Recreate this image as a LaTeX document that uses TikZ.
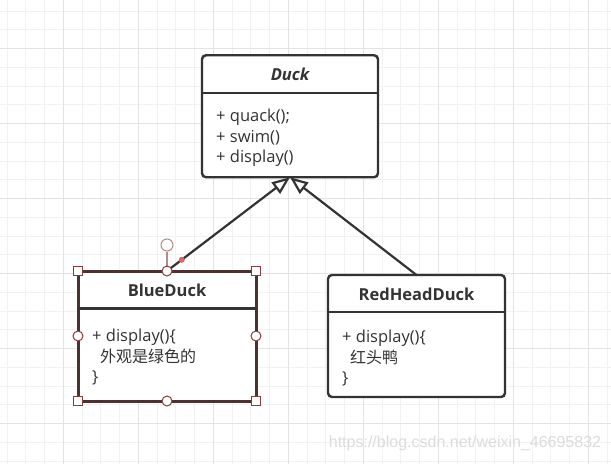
\documentclass[tikz,border=0pt]{standalone}
\usepackage{fontspec}
\setmainfont{Open Sans}
\newfontfamily\cjk{Noto Sans CJK SC}
\newfontfamily\wmfont{Liberation Sans}
\usetikzlibrary{positioning,arrows.meta}
\definecolor{ink}{HTML}{333333}
\definecolor{selbrown}{HTML}{4A3232}
\definecolor{handle}{HTML}{8B3A3A}
\definecolor{rothandle}{HTML}{B58A8A}
\definecolor{reddot}{HTML}{E06262}
\definecolor{gridminor}{HTML}{F2F2F2}
\definecolor{gridmajor}{HTML}{E3E3E3}
\definecolor{wmgray}{HTML}{DCDCDC}

\begin{document}
\begin{tikzpicture}[x=1pt, y=-1pt, font=\fontsize{16.5}{20.5}\selectfont,
    cls/.style={draw=ink, line width=2.4pt, rounded corners=4pt, fill=white, outer sep=0pt, minimum width=176pt, minimum height=122pt},
    title/.style={font=\fontsize{16.5}{18}\selectfont\bfseries, text=ink},
    body/.style={align=left, text=ink, anchor=north west, inner sep=0pt},
    sq/.style={draw=handle, fill=white, line width=1pt, minimum size=9pt, inner sep=0pt},
    dot/.style={circle, draw=handle, fill=white, line width=1pt, minimum size=10pt, inner sep=0pt},
    inherit/.style={draw=ink, line width=2.2pt, -{Triangle[open, length=18pt, width=14pt, fill=white]}}]

	% grid paper
	\useasboundingbox (0,0) rectangle (611,464);
	\fill[white] (0,0) rectangle (611,464);
	\foreach \i in {0,...,32} \draw[gridminor, line width=1pt] ({7.05+18.75*\i},0) -- ++(0,464);
	\foreach \j in {0,...,25} \draw[gridminor, line width=1pt] (0,{-7.55+18.75*\j}) -- ++(611,0);
	\foreach \i in {0,...,7} \draw[gridmajor, line width=1pt] ({63.3+75*\i},0) -- ++(0,464);
	\foreach \j in {0,...,5} \draw[gridmajor, line width=1pt] (0,{48.7+75*\j}) -- ++(611,0);

	% classes
	\node[cls] (duck) at (290,116.25) {};
	\node[title, font=\fontsize{16.5}{18}\selectfont\bfseries\itshape] (duck_title) at ([yshift=-19pt]duck.north) {Duck};
	\draw[ink, line width=2.4pt] ([yshift=-37.5pt]duck.north west) -- ([yshift=-37.5pt]duck.north east);
	\node[body] (duck_ops) at ([xshift=14pt, yshift=-54pt]duck.north west) {+ quack();\\+ swim()\\+ display()};

	\node[cls, draw=selbrown, line width=3pt, rounded corners=0pt, minimum width=178pt, minimum height=130pt] (blue) at (167,336) {};
	\node[title] (blue_title) at ([yshift=-19pt]blue.north) {BlueDuck};
	\draw[ink, line width=2.6pt] ([yshift=-37.5pt]blue.north west) -- ([yshift=-37.5pt]blue.north east);
	\node[body] (blue_ops) at ([xshift=14pt, yshift=-58pt]blue.north west) {+ display()\{\\\hspace{8pt}{\cjk\fontsize{16}{20.5}\selectfont 外观是绿色的}\\\}};

	\node[cls, minimum width=177pt] (red) at (416.5,336) {};
	\node[title] (red_title) at ([yshift=-19pt]red.north) {RedHeadDuck};
	\draw[ink, line width=2.4pt] ([yshift=-37pt]red.north west) -- ([yshift=-37pt]red.north east);
	\node[body] (red_ops) at ([xshift=14pt, yshift=-55pt]red.north west) {+ display()\{\\\hspace{8pt}{\cjk\fontsize{16}{20.5}\selectfont 红头鸭}\\\}};

	% inheritance
	\draw[inherit] (blue.north) -- node[pos=0.12, circle, fill=reddot, minimum size=6pt, inner sep=0pt] (bend) {} (duck.south);
	\draw[inherit] (red.north) -- (duck.south);

	% selection handles
	\node[dot, draw=rothandle, minimum size=12pt] (rot) at (167,245) {};
	\draw[rothandle, line width=1.5pt] (rot) -- (blue.north);
	\foreach \a in {north west, north east, south west, south east} \node[sq] at (blue.\a) {};
	\foreach \a in {north, south, west, east} \node[dot] at (blue.\a) {};

	\node[text=wmgray, font=\wmfont\fontsize{16}{18}\selectfont] (mark) at (465,443) {https://blog.csdn.net/weixin\_46695832};
\end{tikzpicture}
\end{document}
